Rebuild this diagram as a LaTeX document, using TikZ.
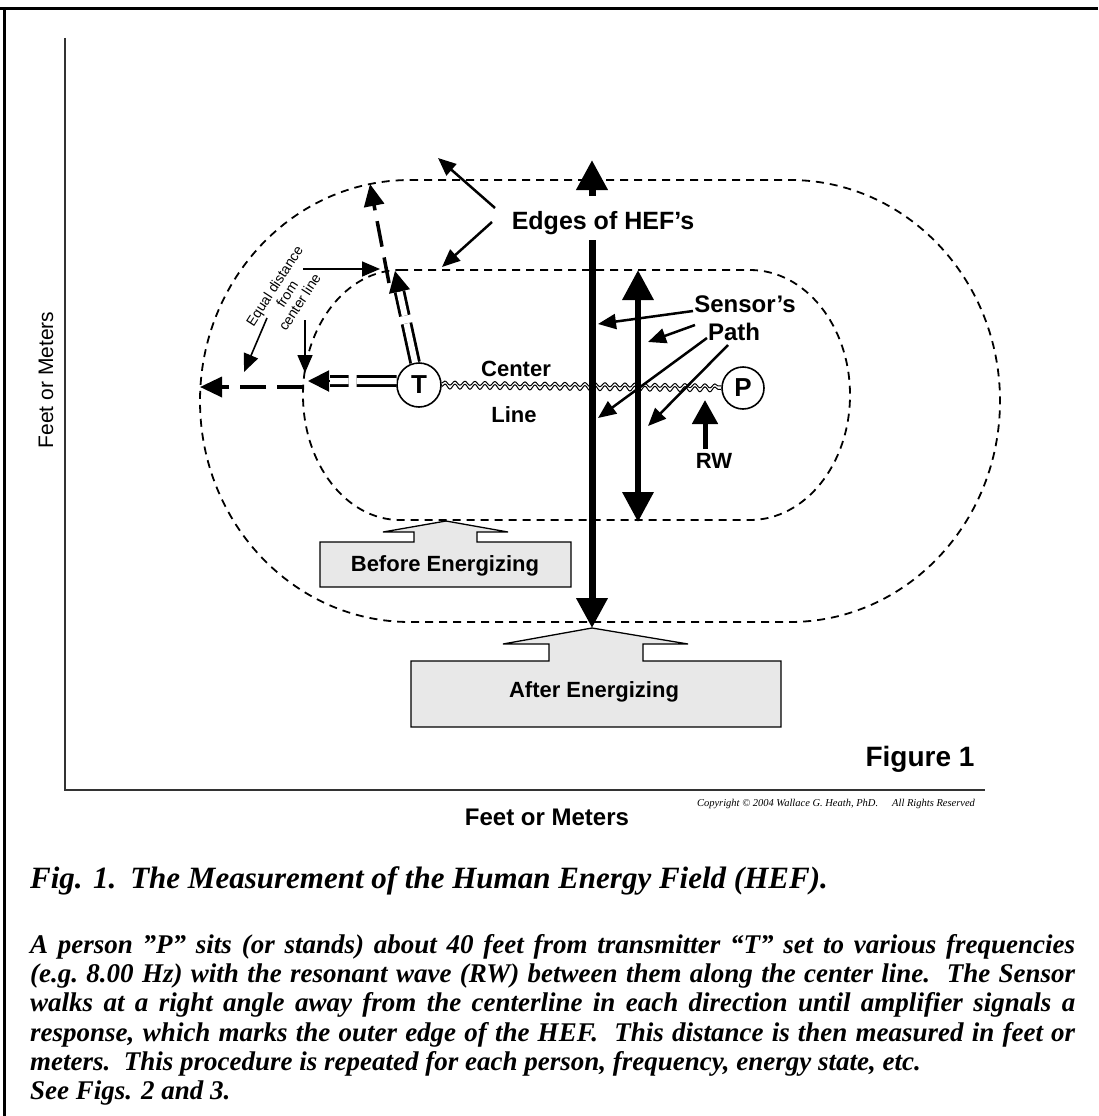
\documentclass[tikz,border=0pt]{standalone}
\usepackage{fontspec}
\setmainfont{Liberation Serif}
\setsansfont{Liberation Sans}
\usetikzlibrary{arrows.meta}
\usetikzlibrary{decorations.pathmorphing}

\begin{document}
\begin{tikzpicture}
[x=1pt,y=-1pt,%
  every node/.style={inner sep=0pt},%
  lbl/.style={font=\sffamily\bfseries\fontsize{22}{24}\selectfont,anchor=base},%
  fieldedge/.style={dash pattern=on 8pt off 6pt,line width=1.8pt},%
  pointer/.style={line width=2.5pt,-{Triangle[length=18pt,width=15pt]}},%
  sensor/.style={line width=7pt,-{Triangle[length=30pt,width=30pt]}},%
  reach/.style={line width=3.5pt,dash pattern=on 26pt off 11pt,-{Triangle[length=22pt,width=20pt]}},%
  twin/.style={double,double distance=6pt,line width=2.8pt,dash pattern=on 40pt off 8pt},%
  twinhead/.style={line width=2pt,-{Triangle[length=21pt,width=21pt]}},%
  callout/.style={draw,line width=1.3pt,fill=black!9},%
  station/.style={draw,circle,line width=1.6pt,minimum size=44pt,%
    font=\sffamily\bfseries\fontsize{26}{26}\selectfont}]
\useasboundingbox (0,0) rectangle (1098,1116);
\draw[line width=3.5pt] (0,8.5) -- (1098,8.5);
\draw[line width=3pt] (4.5,8.5) -- (4.5,1116);

% axes
\coordinate (o) at (65,790);
\coordinate (ytop) at (65,38);
\coordinate (xend) at (985,790);
\draw[line width=1.8pt,black!80] (ytop) -- (o) -- (xend);
\node[rotate=90,font=\sffamily\fontsize{21}{21}\selectfont] (ylab) at (46,380) {Feet or Meters};
\node[lbl,font=\sffamily\bfseries\fontsize{24}{24}\selectfont] (xlab) at (547,825) {Feet or Meters};
\node[anchor=base,font=\rmfamily\itshape\fontsize{10.5}{11}\selectfont] (copy) at (836,806)
  {Copyright \textcopyright{} 2004 Wallace G. Heath, PhD.\hspace{14pt}All Rights Reserved};
\node[lbl,font=\sffamily\bfseries\fontsize{28}{28}\selectfont] (fig) at (920,766) {Figure 1};

% edges of the field
\draw[fieldedge] (410,180) -- (790,180)
  arc[start angle=-90,end angle=90,x radius=210,y radius=221] -- (410,622)
  arc[start angle=90,end angle=270,x radius=210,y radius=221];
\draw[fieldedge] (400,270) -- (750,270)
  arc[start angle=-90,end angle=90,x radius=100,y radius=125] -- (400,520)
  arc[start angle=90,end angle=270,x radius=97,y radius=125];

% transmitter, person, resonant wave
\node[station] (T) at (419,385) {T};
\node[station,minimum size=42pt] (P) at (743,388) {P};
\draw[line width=1pt,decorate,decoration={snake,amplitude=2.5pt,segment length=10pt}]
  ([yshift=-1.5pt]T.east) -- ([yshift=-1.5pt]P.west);
\draw[line width=1pt,decorate,decoration={snake,amplitude=2pt,segment length=10pt}]
  ([yshift=2pt]T.east) -- ([yshift=2pt]P.west);
\node[lbl] (center) at (516,376) {Center};
\node[lbl] (line) at (514,422) {Line};

% distances from T
\coordinate (upend) at (399.5,291.5);
\coordinate (uptip) at (395,271);
\coordinate (upout) at (389,283);
\coordinate (uptop) at (370,184);
\draw[twin] (T.100) -- (upend);
\draw[twinhead] (upend) -- (uptip);
\draw[reach] (upout) -- (uptop);
\coordinate (leftend) at (330,381);
\coordinate (lefttip) at (308,381);
\coordinate (leftout) at (303,387);
\coordinate (leftedge) at (200,387);
\draw[twin] (T.170) -- (leftend);
\draw[twinhead] (leftend) -- (lefttip);
\draw[reach] (leftout) -- (leftedge);

\node[rotate=57,align=center,font=\sffamily\fontsize{14}{15}\selectfont] (equal) at (287,294)
  {Equal distance\\from\\center line};
\coordinate (eq1) at (267,318);
\coordinate (eq1t) at (244,372);
\coordinate (eq2) at (305,320);
\coordinate (eq2t) at (305,373);
\coordinate (eq3) at (303,269);
\coordinate (eq3t) at (380,269);
\draw[pointer,line width=1.6pt] (eq1) -- (eq1t);
\draw[pointer,line width=1.6pt] (eq2) -- (eq2t);
\draw[pointer,line width=1.6pt] (eq3) -- (eq3t);

% edges label
\node[lbl,font=\sffamily\bfseries\fontsize{25}{25}\selectfont] (edges) at (603,229) {Edges of HEF’s};
\coordinate (ed1) at (495,208);
\coordinate (ed1t) at (438,158);
\coordinate (ed2) at (492,222);
\coordinate (ed2t) at (442,267);
\draw[pointer] (ed1) -- (ed1t);
\draw[pointer] (ed2) -- (ed2t);

% sensor's path
\coordinate (s1) at (592,240);
\coordinate (s1t) at (592,628);
\coordinate (s0) at (592,196);
\coordinate (s0t) at (592,160);
\coordinate (s2t) at (638,270);
\coordinate (s2b) at (638,522);
\draw[sensor] (s1) -- (s1t);
\draw[sensor] (s0) -- (s0t);
\draw[sensor,{Triangle[length=30pt,width=30pt]}-{Triangle[length=30pt,width=30pt]},line width=6.5pt] (s2t) -- (s2b);
\node[lbl,font=\sffamily\bfseries\fontsize{24}{24}\selectfont] (sensors) at (745,312) {Sensor’s};
\node[lbl,font=\sffamily\bfseries\fontsize{24}{24}\selectfont] (path) at (734,340) {Path};
\coordinate (p1) at (693,311);
\coordinate (p1t) at (598,324);
\coordinate (p2) at (695,325);
\coordinate (p2t) at (648,342);
\coordinate (p3) at (707,338);
\coordinate (p3t) at (598,418);
\coordinate (p4) at (728,345);
\coordinate (p4t) at (648,426);
\draw[pointer] (p1) -- (p1t);
\draw[pointer] (p2) -- (p2t);
\draw[pointer] (p3) -- (p3t);
\draw[pointer] (p4) -- (p4t);

% RW
\node[lbl] (rw) at (714,468) {RW};
\coordinate (rwt) at (705,400);
\draw[line width=5pt,-{Triangle[length=24pt,width=25pt]}] (rw.north) ++(-9,-4) -- (rwt);

% energizing boxes
\draw[callout] (383,532) -- (446,521) -- (508,532) -- (477,532) -- (477,542) -- (571,542)
  -- (571,587) -- (320,587) -- (320,542) -- (414,542) -- (414,532) -- cycle;
\node[lbl] (before) at (445,571) {Before Energizing};
\draw[callout] (503,644) -- (592,628) -- (688,644) -- (643,644) -- (643,661) -- (781,661)
  -- (781,727) -- (411,727) -- (411,661) -- (549,661) -- (549,644) -- cycle;
\node[lbl] (after) at (594,697) {After Energizing};

% caption
\node[anchor=base west,font=\rmfamily\bfseries\itshape\fontsize{31}{32}\selectfont] (title) at (30,888)
  {Fig. 1.\hspace{14pt}The Measurement of the Human Energy Field (HEF).};
\node[anchor=north west,text width=1045pt,align=justify,%
  font=\rmfamily\bfseries\itshape\fontsize{27}{29.3}\selectfont] (body) at (30,934)
  {A person ”P” sits (or stands) about 40 feet from transmitter “T” set to various frequencies\linebreak
   (e.g.\ 8.00 Hz) with the resonant wave (RW) between them along the center line.\ \ The Sensor\linebreak
   walks at a right angle away from the centerline in each direction until amplifier signals a\linebreak
   response, which marks the outer edge of the HEF.\ \ This distance is then measured in feet or\linebreak
   meters.\ \ This procedure is repeated for each person, frequency, energy state, etc.\\
   See Figs. 2 and 3.};
\end{tikzpicture}
\end{document}
